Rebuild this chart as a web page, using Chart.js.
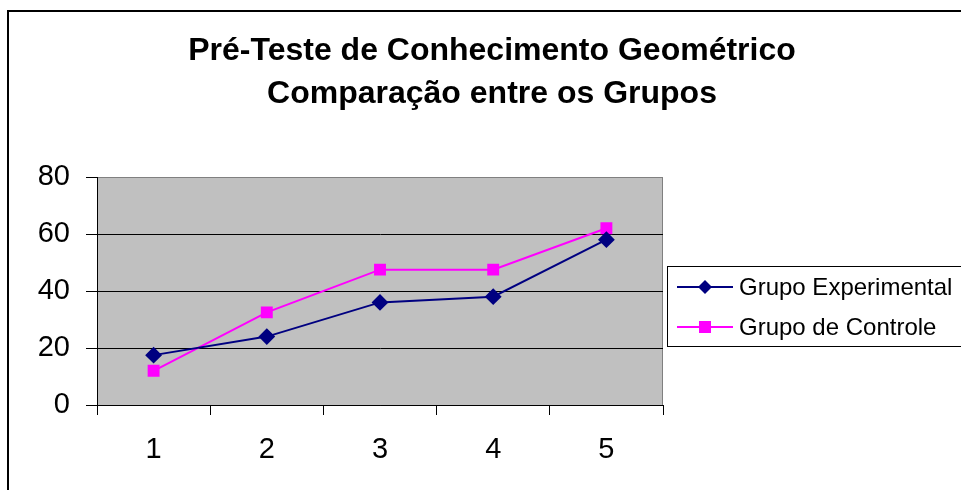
<!DOCTYPE html>
<html>
<head>
<meta charset="utf-8">
<script src="https://cdn.jsdelivr.net/npm/chart.js@4.4.0/dist/chart.umd.min.js"></script>
<style>
  body { margin: 0; background: #fff; }
  #wrap { width: 961px; height: 490px; }
</style>
</head>
<body>
<div id="wrap"><canvas id="chart" width="961" height="490"></canvas></div>
<script>
// dados
var categorias = ["1", "2", "3", "4", "5"];
var grupoExperimental = [17.5, 24, 36, 38, 58];
var grupoControle = [12, 32.5, 47.5, 47.5, 62];
var titulo = ["Pré-Teste de Conhecimento Geométrico", "Comparação entre os Grupos"];
var fonte = "'Liberation Sans', Arial, sans-serif";

// moldura, fundo cinza, título e legenda no estilo Excel
var moldura = {
  id: "moldura",
  beforeDraw: function(chart) {
    var ctx = chart.ctx, a = chart.chartArea;
    ctx.save();
    ctx.fillStyle = "#fff";
    ctx.fillRect(0, 0, chart.width, chart.height);
    ctx.lineWidth = 2;
    ctx.strokeStyle = "#000";
    ctx.strokeRect(8, 11, chart.width + 40, chart.height + 40);
    ctx.fillStyle = "#c0c0c0";
    ctx.fillRect(a.left, a.top, a.right - a.left, a.bottom - a.top);
    ctx.lineWidth = 1;
    ctx.strokeStyle = "#808080";
    ctx.strokeRect(a.left + 0.5, a.top + 0.5, a.right - a.left - 1, a.bottom - a.top);
    ctx.restore();
  },
  afterDraw: function(chart) {
    var ctx = chart.ctx;
    ctx.save();
    // título
    ctx.fillStyle = "#000";
    ctx.font = "bold 32px " + fonte;
    ctx.textAlign = "center";
    ctx.textBaseline = "middle";
    ctx.fillText(titulo[0], 492, 51);
    ctx.fillText(titulo[1], 492, 94);

    // legenda
    ctx.lineWidth = 1;
    ctx.strokeStyle = "#000";
    ctx.strokeRect(667.5, 266.5, 400, 80);
    ctx.font = "24px " + fonte;
    ctx.textAlign = "left";
    chart.data.datasets.forEach(function(ds, i) {
      var y = 287 + i * 40;
      ctx.strokeStyle = ds.borderColor;
      ctx.lineWidth = 2;
      ctx.beginPath();
      ctx.moveTo(677, y);
      ctx.lineTo(733, y);
      ctx.stroke();
      ctx.fillStyle = ds.pointBackgroundColor;
      ctx.beginPath();
      if (ds.pointStyle === "rectRot") {
        ctx.moveTo(705, y - 7);
        ctx.lineTo(712, y);
        ctx.lineTo(705, y + 7);
        ctx.lineTo(698, y);
      } else {
        ctx.rect(699, y - 6, 12, 12);
      }
      ctx.closePath();
      ctx.fill();
      ctx.fillStyle = "#000";
      ctx.fillText(ds.label, 739, y + 1);
    });
    ctx.restore();
  }
};

var canvas = document.getElementById("chart").getContext("2d");
window.linha = new Chart(canvas, {
  type: "line",
  data: {
    labels: categorias,
    datasets: [{
      label: "Grupo Experimental",
      data: grupoExperimental,
      borderColor: "#000080",
      backgroundColor: "#000080",
      pointBackgroundColor: "#000080",
      pointBorderColor: "#000080",
      pointStyle: "rectRot",
      pointRadius: 7,
      borderWidth: 2,
      tension: 0
    },
    {
      label: "Grupo de Controle",
      data: grupoControle,
      borderColor: "#ff00ff",
      backgroundColor: "#ff00ff",
      pointBackgroundColor: "#ff00ff",
      pointBorderColor: "#ff00ff",
      pointStyle: "rect",
      pointRadius: 7,
      borderWidth: 2,
      tension: 0
    }]
  },
  options: {
    responsive: false,
    animation: false,
    layout: { padding: { top: 177, left: 0, right: 298, bottom: 0 } },
    plugins: {
      legend: { display: false },
      title: { display: false },
      tooltip: { enabled: false }
    },
    scales: {
      x: {
        offset: true,
        afterFit: function(scale) { scale.height = 85; },
        grid: {
          offset: true,
          drawOnChartArea: false,
          tickLength: 10,
          tickColor: "#000"
        },
        border: { color: "#000", width: 1 },
        ticks: {
          color: "#000",
          font: { family: fonte, size: 29 },
          padding: 18
        }
      },
      y: {
        min: 0,
        max: 80,
        afterFit: function(scale) { scale.width = 97; },
        grid: {
          color: function(c) { return c.tick && c.tick.value === 80 ? "#808080" : "#000"; },
          tickColor: "#000",
          tickLength: 11
        },
        border: { color: "#000", width: 1 },
        ticks: {
          stepSize: 20,
          color: "#000",
          font: { family: fonte, size: 29 },
          padding: 16
        }
      }
    }
  },
  plugins: [moldura]
});
</script>
</body>
</html>
